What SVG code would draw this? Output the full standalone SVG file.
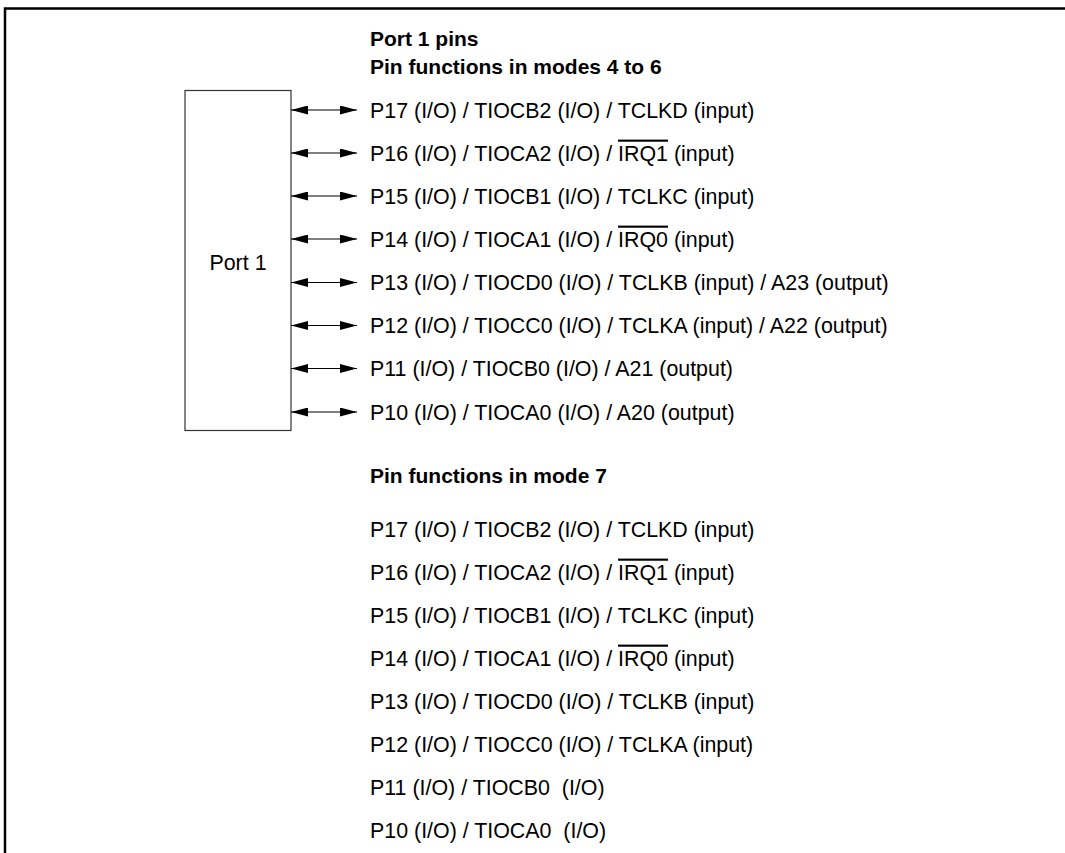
<svg xmlns="http://www.w3.org/2000/svg" width="1065" height="853" viewBox="0 0 1065 853">
<defs>
<style>
text{font-family:"Liberation Sans",Arial,sans-serif;font-size:21.4px;fill:#000}
.b{font-weight:bold;font-size:21px}
.ol{text-decoration:overline}
.c{stroke:#000;stroke-width:1.2;fill:none}
</style>
<marker id="ah" viewBox="0 0 17 9" refX="17" refY="4.5" markerWidth="17" markerHeight="9" markerUnits="userSpaceOnUse" orient="auto-start-reverse">
<path d="M0,0 L17,4.5 L0,9 Z" fill="#000"/>
</marker>
</defs>
<rect width="1065" height="853" fill="#fff"/>
<path d="M5,853 V8.5 H1065" fill="none" stroke="#000" stroke-width="2.5"/>
<g id="titles">
<text class="b" x="370" y="45.5">Port 1 pins</text>
<text class="b" x="370" y="73.5">Pin functions in modes 4 to 6</text>
<text class="b" x="370" y="482.5">Pin functions in mode 7</text>
</g>
<g id="port1">
<rect x="185" y="90.5" width="106" height="340" fill="#fff" stroke="#333" stroke-width="1.2"/>
<text x="238" y="269.5" text-anchor="middle">Port 1</text>
</g>
<g id="connectors">
<line class="c" x1="291" y1="110" x2="357" y2="110" marker-start="url(#ah)" marker-end="url(#ah)"/>
<line class="c" x1="291" y1="153" x2="357" y2="153" marker-start="url(#ah)" marker-end="url(#ah)"/>
<line class="c" x1="291" y1="196" x2="357" y2="196" marker-start="url(#ah)" marker-end="url(#ah)"/>
<line class="c" x1="291" y1="239" x2="357" y2="239" marker-start="url(#ah)" marker-end="url(#ah)"/>
<line class="c" x1="291" y1="282.5" x2="357" y2="282.5" marker-start="url(#ah)" marker-end="url(#ah)"/>
<line class="c" x1="291" y1="325.5" x2="357" y2="325.5" marker-start="url(#ah)" marker-end="url(#ah)"/>
<line class="c" x1="291" y1="368.5" x2="357" y2="368.5" marker-start="url(#ah)" marker-end="url(#ah)"/>
<line class="c" x1="291" y1="412" x2="357" y2="412" marker-start="url(#ah)" marker-end="url(#ah)"/>
</g>
<g id="modes4to6">
<text x="370" y="117.6">P17 (I/O) / TIOCB2 (I/O) / TCLKD (input)</text>
<text x="370" y="160.6">P16 (I/O) / TIOCA2 (I/O) / <tspan class="ol">IRQ1</tspan> (input)</text>
<text x="370" y="203.6">P15 (I/O) / TIOCB1 (I/O) / TCLKC (input)</text>
<text x="370" y="246.6">P14 (I/O) / TIOCA1 (I/O) / <tspan class="ol">IRQ0</tspan> (input)</text>
<text x="370" y="290.1">P13 (I/O) / TIOCD0 (I/O) / TCLKB (input) / A23 (output)</text>
<text x="370" y="333.1">P12 (I/O) / TIOCC0 (I/O) / TCLKA (input) / A22 (output)</text>
<text x="370" y="376.1">P11 (I/O) / TIOCB0 (I/O) / A21 (output)</text>
<text x="370" y="419.6">P10 (I/O) / TIOCA0 (I/O) / A20 (output)</text>
</g>
<g id="mode7">
<text x="370" y="536.6">P17 (I/O) / TIOCB2 (I/O) / TCLKD (input)</text>
<text x="370" y="579.6">P16 (I/O) / TIOCA2 (I/O) / <tspan class="ol">IRQ1</tspan> (input)</text>
<text x="370" y="622.6">P15 (I/O) / TIOCB1 (I/O) / TCLKC (input)</text>
<text x="370" y="665.6">P14 (I/O) / TIOCA1 (I/O) / <tspan class="ol">IRQ0</tspan> (input)</text>
<text x="370" y="708.6">P13 (I/O) / TIOCD0 (I/O) / TCLKB (input)</text>
<text x="370" y="751.6">P12 (I/O) / TIOCC0 (I/O) / TCLKA (input)</text>
<text x="370" y="794.6" xml:space="preserve">P11 (I/O) / TIOCB0  (I/O)</text>
<text x="370" y="837.6" xml:space="preserve">P10 (I/O) / TIOCA0  (I/O)</text>
</g>
</svg>
